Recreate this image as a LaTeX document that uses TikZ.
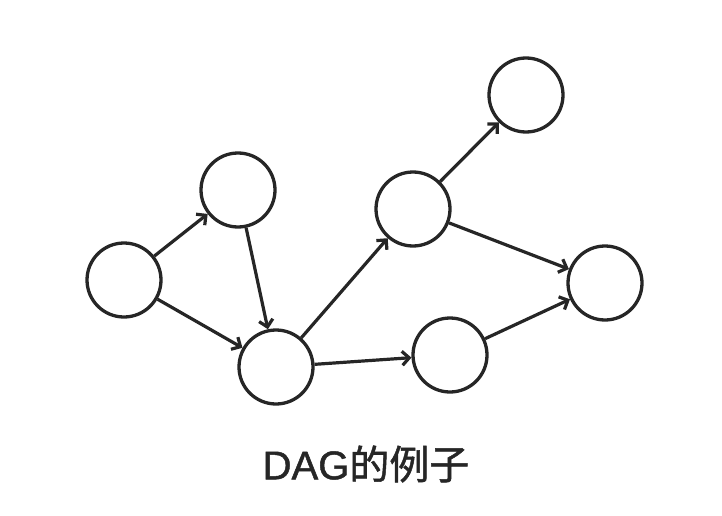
\documentclass[tikz,border=0pt]{standalone}
\usepackage{fontspec}
\newfontfamily\cjk[FakeBold=1.2]{Noto Sans CJK SC}
\newfontfamily\latn[FakeBold=1.2]{Liberation Sans}
\usetikzlibrary{arrows.meta}
\begin{document}
\begin{tikzpicture}[x=1pt,y=-1pt,
  vtx/.style={circle,draw=black!85,line width=3.3pt,minimum size=74pt,inner sep=0pt},
  edge/.style={draw=black!85,line width=3.2pt,-{Straight Barb[length=7pt,width=14pt,line width=3.2pt]}}]
\useasboundingbox (0,0) rectangle (722,516);
\node[vtx] (A) at (124,280) {};
\node[vtx] (B) at (238,190) {};
\node[vtx] (C) at (276,367) {};
\node[vtx] (D) at (413,209) {};
\node[vtx] (E) at (526,95) {};
\node[vtx] (F) at (450,355) {};
\node[vtx] (G) at (605,283) {};
\draw[edge] (A) -- (B);
\draw[edge] (A) -- (C);
\draw[edge] (B) -- (C);
\draw[edge] (C) -- (D);
\draw[edge] (C) -- (F);
\draw[edge] (D) -- (E);
\draw[edge] (D) -- (G);
\draw[edge] (F) -- (G);
\node[font=\fontsize{40}{44}\selectfont,text=black!85,inner sep=0pt] (cap) at (366,464) {\latn DAG\cjk 的例子};
\end{tikzpicture}
\end{document}
